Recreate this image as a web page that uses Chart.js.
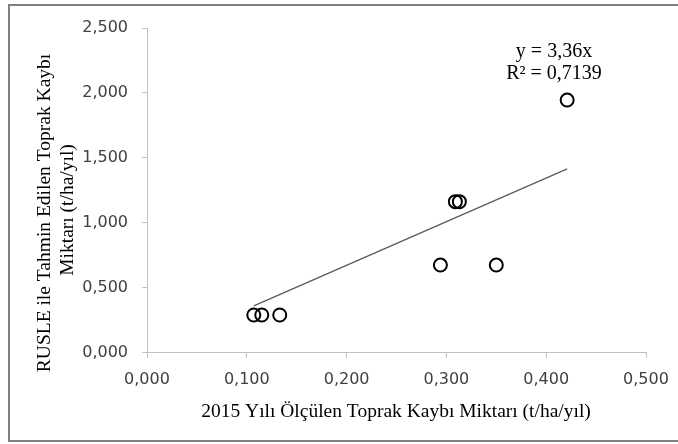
<!DOCTYPE html>
<html>
<head>
<meta charset="utf-8">
<script src="https://cdn.jsdelivr.net/npm/chart.js@4/dist/chart.umd.min.js"></script>
<style>
  html, body { margin: 0; padding: 0; background: #fff; }
  #wrap { width: 678px; height: 444px; position: relative; }
</style>
</head>
<body>
<div id="wrap"><canvas id="grafico"></canvas></div>
<script>
/* Ölçülen vs RUSLE tahmini */
const olculen  = [0.107, 0.115, 0.133, 0.294, 0.309, 0.313, 0.350, 0.421];
const tahmin   = [0.289, 0.289, 0.289, 0.674, 1.162, 1.162, 0.674, 1.945];
const egim     = 3.36;
const trendX   = [0.107, 0.421];
const xTicks   = [0, 0.1, 0.2, 0.3, 0.4, 0.5];
const yTicks   = [0, 0.5, 1, 1.5, 2, 2.5];
const denklem  = ['y = 3,36x', 'R² = 0,7139'];
const xBaslik  = '2015 Yılı Ölçülen Toprak Kaybı Miktarı (t/ha/yıl)';
const yBaslik  = ['RUSLE ile Tahmin Edilen Toprak Kaybı', 'Miktarı (t/ha/yıl)'];

const fmt = v => Number(v).toFixed(3).replace('.', ',');
const eksenRenk = '#bfbfbf';
const tickFont  = { family: 'DejaVu Sans', size: 16 };

// çerçeve + başlıklar + denklem
const ekstra = {
    id: 'ekstra',
    beforeDraw(chart) {
        const c = chart.ctx;
        c.save();
        c.fillStyle = '#fff';
        c.fillRect(0, 0, chart.width, chart.height);
        c.restore();
    },
    afterDraw(chart) {
        const c = chart.ctx;
        c.save();
        c.strokeStyle = '#7f7f7f';
        c.lineWidth = 2;
        c.strokeRect(9, 5, chart.width + 10, 436);

        c.fillStyle = '#000';
        c.font = '19.5px "Liberation Serif"';
        c.textAlign = 'center';
        c.textBaseline = 'middle';
        c.fillText(xBaslik, 396, 412);

        c.save();
        c.translate(45, 213);
        c.rotate(-Math.PI / 2);
        c.fillText(yBaslik[0], 0, 0);
        c.fillText(yBaslik[1], 3, 23);
        c.restore();

        c.font = '20px "Liberation Serif"';
        c.fillText(denklem[0], 554, 52);
        c.fillText(denklem[1], 554, 74);
        c.restore();
    }
};

new Chart(document.getElementById('grafico'), {
    type: 'scatter',
    data: {
        datasets: [
            {
                label: 'Noktalar',
                data: olculen.map((x, i) => ({ x, y: tahmin[i] })),
                pointStyle: 'circle',
                pointRadius: 6.5,
                pointBorderWidth: 2,
                pointBorderColor: '#000',
                pointBackgroundColor: 'rgba(0,0,0,0)',
                showLine: false,
                order: 1,
            },
            {
                label: 'Doğrusal',
                data: trendX.map(x => ({ x, y: egim * x })),
                showLine: true,
                borderColor: '#595959',
                borderWidth: 1.2,
                pointRadius: 0,
                order: 2,
            }
        ]
    },
    options: {
        responsive: true,
        maintainAspectRatio: false,
        animation: false,
        layout: { padding: { top: 28, right: 32, left: 0, bottom: 0 } },
        plugins: {
            legend: { display: false },
            tooltip: { enabled: false }
        },
        scales: {
            x: {
                type: 'linear',
                min: 0, max: 0.5,
                afterBuildTicks: s => { s.ticks = xTicks.map(v => ({ value: v })); },
                afterFit: s => { s.height = 91.5; s.paddingLeft = 0; s.paddingRight = 0; },
                ticks: { callback: v => fmt(v), color: '#404040', font: tickFont, padding: 13, maxRotation: 0 },
                grid: { display: true, drawOnChartArea: false, tickLength: 5, color: eksenRenk },
                border: { color: eksenRenk, width: 1 }
            },
            y: {
                type: 'linear',
                min: 0, max: 2.5,
                afterBuildTicks: s => { s.ticks = yTicks.map(v => ({ value: v })); },
                afterFit: s => { s.width = 147; s.paddingTop = 0; s.paddingBottom = 0; },
                ticks: { callback: v => fmt(v), color: '#404040', font: tickFont, padding: 14 },
                grid: { display: true, drawOnChartArea: false, tickLength: 5, color: eksenRenk },
                border: { color: eksenRenk, width: 1 }
            }
        }
    },
    plugins: [ekstra]
});
</script>
</body>
</html>
